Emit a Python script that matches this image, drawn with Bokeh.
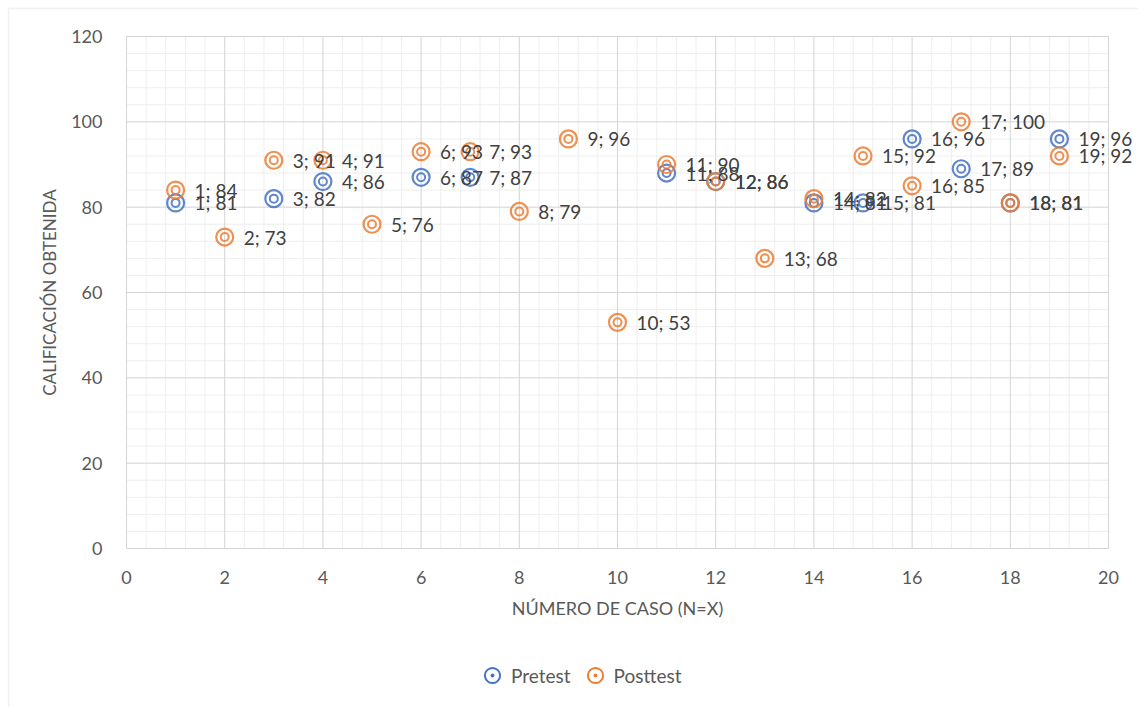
import numpy as np
from bokeh.plotting import figure
from bokeh.models import (ColumnDataSource, LabelSet, Range1d, SingleIntervalTicker,
                          Legend, LegendItem, BoxAnnotation)
from bokeh.core.properties import value
from bokeh.embed import file_html
from bokeh.resources import INLINE

# Calificaciones por caso
pre_case = [1, 3, 4, 6, 7, 11, 12, 14, 15, 16, 17, 18, 19]
pre_score = [81, 82, 86, 87, 87, 88, 86, 81, 81, 96, 89, 81, 96]

post_case = list(range(1, 20))
post_score = [84, 73, 91, 91, 76, 93, 93, 79, 96, 53, 90, 86, 68, 82, 92, 85, 100, 81, 92]

x_ticks = [0, 2, 4, 6, 8, 10, 12, 14, 16, 18, 20]
y_ticks = [0, 20, 40, 60, 80, 100, 120]

BLUE = "#4472C4"
ORANGE = "#ED7D31"
FONT = "Lato"
W, H = 1138, 707

# pixel box of the plot area inside the canvas
PX_L, PX_R, PX_T, PX_B = 126, 1108, 36, 548
x0, x1 = x_ticks[0], x_ticks[-1]
y0, y1 = y_ticks[0], y_ticks[-1]
sx = (PX_R - PX_L) / (x1 - x0)
sy = (PX_B - PX_T) / (y1 - y0)
xr = Range1d(x0 - PX_L / sx, x1 + (W - PX_R) / sx)
yr = Range1d(y0 - (H - PX_B) / sy, y1 + PX_T / sy)

pre_src = ColumnDataSource(dict(x=pre_case, y=pre_score,
                                txt=[f"{c}; {s}" for c, s in zip(pre_case, pre_score)]))
post_src = ColumnDataSource(dict(x=post_case, y=post_score,
                                 txt=[f"{c}; {s}" for c, s in zip(post_case, post_score)]))

p = figure(width=W, height=H, output_backend="svg", toolbar_location=None,
           x_range=xr, y_range=yr, min_border=0)
p.outline_line_color = None
p.background_fill_color = "white"
p.border_fill_color = "white"
p.grid.visible = False

# gridlines restricted to the plot area
mx = np.linspace(x0, x1, (len(x_ticks) - 1) * 5 + 1)
my = np.linspace(y0, y1, (len(y_ticks) - 1) * 5 + 1)
minor_x = [v for v in mx if v not in x_ticks]
minor_y = [v for v in my if v not in y_ticks]
p.segment(x0=minor_x, y0=y0, x1=minor_x, y1=y1, line_color="#eeeeee", line_width=1)
p.segment(x0=x0, y0=minor_y, x1=x1, y1=minor_y, line_color="#eeeeee", line_width=1)
p.segment(x0=x_ticks, y0=y0, x1=x_ticks, y1=y1, line_color="#d4d4d4", line_width=1)
p.segment(x0=x0, y0=y_ticks, x1=x1, y1=y_ticks, line_color="#d4d4d4", line_width=1)

# axes pinned to the plot area
p.xaxis.fixed_location = y0
p.yaxis.fixed_location = x0
p.xaxis.bounds = (x0, x1)
p.yaxis.bounds = (y0, y1)
p.xaxis.ticker = SingleIntervalTicker(interval=2)
p.yaxis.ticker = SingleIntervalTicker(interval=20)
for ax in (p.xaxis, p.yaxis):
    ax.axis_line_color = None
    ax.major_tick_line_color = None
    ax.minor_tick_line_color = None
    ax.major_label_text_font = FONT
    ax.major_label_text_font_size = "18px"
    ax.major_label_text_color = "#595959"
    ax.axis_label_text_font = FONT
    ax.axis_label_text_color = "#595959"
    ax.axis_label_text_font_style = "normal"

p.xaxis.axis_label = "NÚMERO DE CASO (N=X)"
p.yaxis.axis_label = "CALIFICACIÓN OBTENIDA"
p.xaxis.axis_label_text_font_size = "18px"
p.yaxis.axis_label_text_font_size = "17px"
p.xaxis.major_label_standoff = 16
p.yaxis.major_label_standoff = 18
p.xaxis.axis_label_standoff = 10
p.yaxis.axis_label_standoff = 8

# double-ring markers
def rings(src, color):
    p.scatter("x", "y", source=src, size=17, fill_alpha=0, line_color=color,
              line_width=2.2, line_alpha=0.85)
    p.scatter("x", "y", source=src, size=8, fill_alpha=0, line_color=color,
              line_width=2.0, line_alpha=0.85)

rings(pre_src, BLUE)
rings(post_src, ORANGE)

for src in (pre_src, post_src):
    p.add_layout(LabelSet(x="x", y="y", text="txt", source=src, x_offset=19, y_offset=0,
                          text_baseline="middle", text_font=value(FONT), text_font_size="19px",
                          text_color="#404040"))

# legend keys (not drawn in the plot area)
key_src = ColumnDataSource(dict(x=[np.nan], y=[np.nan]))
leg_pre = p.scatter("x", "y", source=key_src, marker="circle_dot", fill_color="white",
                    line_color=BLUE, line_width=2)
leg_post = p.scatter("x", "y", source=key_src, marker="circle_dot", fill_color="white",
                     line_color=ORANGE, line_width=2)
legend = Legend(items=[LegendItem(label="Pretest", renderers=[leg_pre]),
                       LegendItem(label="Posttest", renderers=[leg_post])],
                orientation="horizontal", location=(473, H - 694),
                glyph_width=38, glyph_height=38, label_standoff=-6, spacing=5, padding=0,
                border_line_alpha=0, background_fill_alpha=0,
                label_text_font=FONT, label_text_font_size="19px", label_text_color="#595959")
p.add_layout(legend)

# chart border
p.add_layout(BoxAnnotation(left=8, right=W + 20, top=H - 8, bottom=-20,
                           left_units="screen", right_units="screen",
                           top_units="screen", bottom_units="screen",
                           fill_alpha=0, line_color="#d0d0d0", line_width=1.5))

open("out.html", "w").write(file_html(p, INLINE))
